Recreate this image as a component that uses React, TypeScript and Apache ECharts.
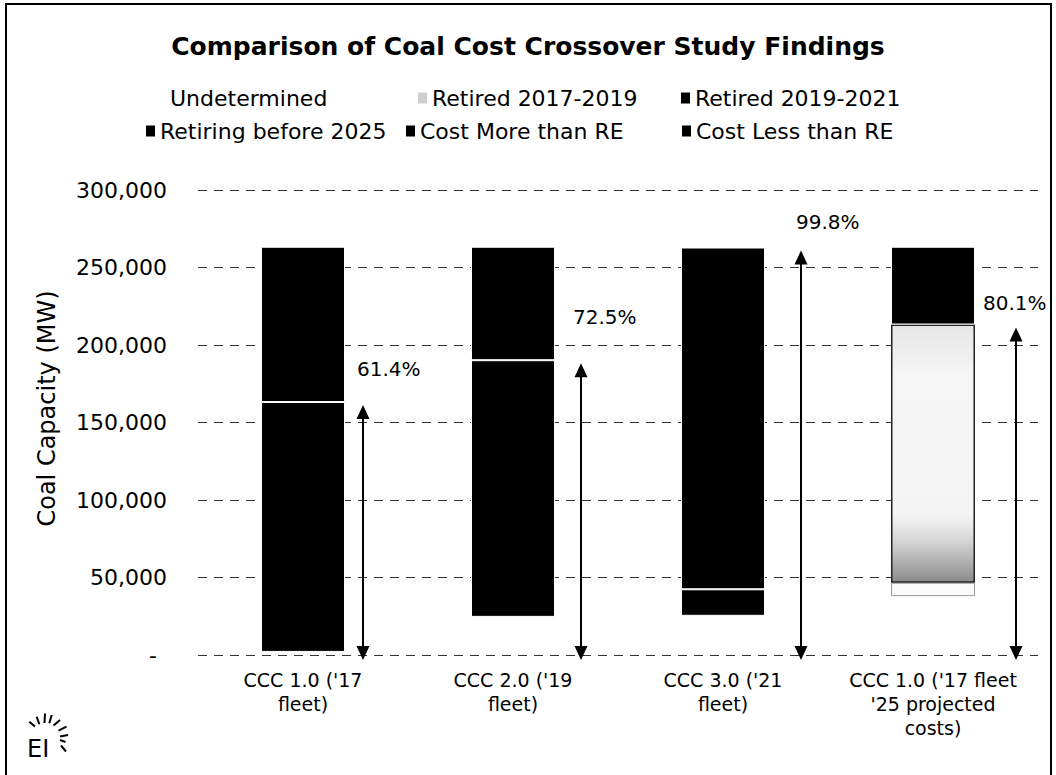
import { useEffect, useRef } from "react";
import * as echarts from "echarts";

const CATEGORIES = [
  "CCC 1.0 ('17\nfleet)",
  "CCC 2.0 ('19\nfleet)",
  "CCC 3.0 ('21\nfleet)",
  "CCC 1.0 ('17 fleet\n'25 projected\ncosts)",
];
const SERIES_NAMES = [
  "Undetermined",
  "Retired 2017-2019",
  "Retired 2019-2021",
  "Retiring before 2025",
  "Cost More than RE",
  "Cost Less than RE",
];
const UNDETERMINED = [2000, 0, 0, 0];
const RETIRED_2017_2019 = [0, 24600, 25300, 38000];
const RETIRED_2019_2021 = [0, 0, 17100, 0];
const RETIRING_BEFORE_2025 = [0, 0, 0, 8600];
const COST_MORE_THAN_RE = [161200, 165600, 220500, 166600];
const COST_LESS_THAN_RE = [100200, 73200, 500, 50200];
const SHARE_PERCENT = [61.4, 72.5, 99.8, 80.1];
const Y_MIN = 0;
const Y_MAX = 300000;
const Y_STEP = 50000;

const FONT = "'DejaVu Sans', sans-serif";

// style-only tables
const SERIES_COLORS = ["#ffffff", "#ffffff", "#000000", "#000000", "#000000", "#000000"];
const LEGEND_ICON_COLORS = ["#ffffff", "#cfcfcf", "#000000", "#000000", "#000000", "#000000"];
const LEGEND_LAYOUT = [
  { left: 156, top: 87 },
  { left: 418, top: 87 },
  { left: 681, top: 87 },
  { left: 146, top: 120 },
  { left: 406, top: 120 },
  { left: 682, top: 120 },
];
const ARROW_DX = [60, 68, 78, 83];
const LABEL_OFFSETS = [
  [-6, -36],
  [-8, -46],
  [-5, -29],
  [-33, -25],
];

export default function App() {
  const ref = useRef<HTMLDivElement>(null);

  useEffect(() => {
    if (!ref.current) return;
    const chart = echarts.init(ref.current, undefined, { renderer: "svg" });

    const seriesValues = [
      UNDETERMINED,
      RETIRED_2017_2019,
      RETIRED_2019_2021,
      RETIRING_BEFORE_2025,
      COST_MORE_THAN_RE,
      COST_LESS_THAN_RE,
    ];

    const arrowTops = CATEGORIES.map((_, i) =>
      seriesValues.slice(0, 5).reduce((s, arr) => s + arr[i], 0)
    );

    const barSeries = SERIES_NAMES.map((name, si) => ({
      name,
      type: "bar",
      stack: "total",
      barWidth: 84,
      color: SERIES_COLORS[si],
      itemStyle: {
        color: SERIES_COLORS[si],
        borderColor: "#ffffff",
        borderWidth: SERIES_COLORS[si] === "#ffffff" ? 0 : 1,
      },
      data: seriesValues[si].map((v, ci) => {
        if (!v) return "-";
        if (ci === 3 && name === "Cost More than RE") {
          return {
            value: v,
            itemStyle: {
              color: new echarts.graphic.LinearGradient(0, 0, 0, 1, [
                { offset: 0, color: "#e6e6e6" },
                { offset: 0.2, color: "#f6f6f6" },
                { offset: 0.74, color: "#f4f4f4" },
                { offset: 0.84, color: "#d6d6d6" },
                { offset: 1, color: "#8a8a8a" },
              ]),
              borderColor: "#222222",
              borderWidth: 1.5,
            },
          };
        }
        if (ci === 3 && name === "Retiring before 2025") {
          return {
            value: v,
            itemStyle: { color: "#fafafa", borderColor: "#999999", borderWidth: 1 },
          };
        }
        return v;
      }),
    }));

    const arrowSeries = {
      type: "custom",
      name: "arrows",
      z: 10,
      encode: { x: 0, y: 1 },
      data: CATEGORIES.map((_, i) => [i, arrowTops[i], SHARE_PERCENT[i]]),
      renderItem: (params: any, api: any) => {
        const i = api.value(0);
        const idx = params.dataIndex;
        const top = api.coord([i, api.value(1)]);
        const base = api.coord([i, 0]);
        const x = top[0] + ARROW_DX[idx];
        const yTop = top[1] + 3;
        const yBot = base[1] + 5;
        const head = 14;
        const hw = 6.5;
        const [lx, ly] = LABEL_OFFSETS[idx];
        return {
          type: "group",
          children: [
            {
              type: "line",
              shape: { x1: x, y1: yTop + head - 2, x2: x, y2: yBot - head + 2 },
              style: { stroke: "#000", lineWidth: 2 },
            },
            {
              type: "polygon",
              shape: { points: [[x, yTop], [x - hw, yTop + head], [x + hw, yTop + head]] },
              style: { fill: "#000" },
            },
            {
              type: "polygon",
              shape: { points: [[x, yBot], [x - hw, yBot - head], [x + hw, yBot - head]] },
              style: { fill: "#000" },
            },
            {
              type: "text",
              x: x + lx,
              y: yTop + ly,
              style: {
                text: api.value(2).toFixed(1) + "%",
                fontSize: 20,
                fontFamily: FONT,
                fill: "#000",
                align: "left",
                verticalAlign: "middle",
              },
            },
          ],
        };
      },
    };

    const rays = [
      [29.3, 721.7, 35, 726.5],
      [36.7, 716.7, 39.3, 724.3],
      [45, 713.5, 44.5, 723],
      [51.7, 715, 49.3, 723.3],
      [60, 720, 53.5, 725.5],
      [66.5, 726.7, 58.5, 730.7],
      [68, 735, 60, 736.5],
      [65.5, 742, 60, 740],
      [66, 751.5, 61, 745.5],
    ];

    const option: any = {
      animation: false,
      backgroundColor: "#ffffff",
      textStyle: { fontFamily: FONT },
      title: {
        text: "Comparison of Coal Cost Crossover Study Findings",
        left: "center",
        top: 29,
        textStyle: { fontFamily: FONT, fontSize: 25, fontWeight: "bold", color: "#000" },
      },
      legend: SERIES_NAMES.map((name, i) => ({
        data: [{ name, itemStyle: { color: LEGEND_ICON_COLORS[i], borderWidth: 0 } }],
        left: LEGEND_LAYOUT[i].left,
        top: LEGEND_LAYOUT[i].top,
        icon: "rect",
        itemWidth: 9,
        itemHeight: 11,
        selectedMode: false,
        padding: 0,
        textStyle: { fontFamily: FONT, fontSize: 22, color: "#000" },
      })),
      grid: { left: 198, right: 18, top: 190, bottom: 120 },
      xAxis: {
        type: "category",
        data: CATEGORIES,
        axisLine: { show: false },
        axisTick: { show: false },
        axisLabel: {
          interval: 0,
          color: "#000",
          fontFamily: FONT,
          fontSize: 19,
          lineHeight: 24,
          margin: 13,
        },
      },
      yAxis: {
        type: "value",
        min: Y_MIN,
        max: Y_MAX,
        interval: Y_STEP,
        name: "Coal Capacity (MW)",
        nameLocation: "middle",
        nameGap: 139,
        nameTextStyle: {
          fontFamily: FONT,
          fontSize: 24,
          color: "#000",
          padding: [0, 0, 0, 28],
        },
        axisLine: { show: false },
        axisTick: { show: false },
        splitLine: { lineStyle: { color: "#333", width: 1, type: [9, 7] } },
        axisLabel: {
          color: "#000",
          fontFamily: FONT,
          fontSize: 22,
          margin: 31,
          formatter: (v: number) =>
            v === 0 ? "{dash|-}" : v.toLocaleString("en-US"),
          rich: { dash: { fontSize: 22, fontFamily: FONT, color: "#000", padding: [0, 10, 0, 0] } },
        },
      },
      graphic: [
        {
          type: "rect",
          shape: { x: 6, y: 4, width: 1045, height: 820 },
          style: { fill: "none", stroke: "#000", lineWidth: 2 },
          silent: true,
        },
        {
          type: "text",
          x: 27,
          y: 737,
          style: { text: "EI", fontSize: 24, fontFamily: FONT, fill: "#000" },
          silent: true,
        },
        ...rays.map((r) => ({
          type: "line",
          shape: { x1: r[0], y1: r[1], x2: r[2], y2: r[3] },
          style: { stroke: "#000", lineWidth: 2 },
          silent: true,
        })),
      ],
      series: [...barSeries, arrowSeries],
    };

    chart.setOption(option);
    return () => chart.dispose();
  }, []);

  return (
    <div
      ref={ref}
      style={{ position: "fixed", left: 0, top: 0, width: 1056, height: 775 }}
    />
  );
}
